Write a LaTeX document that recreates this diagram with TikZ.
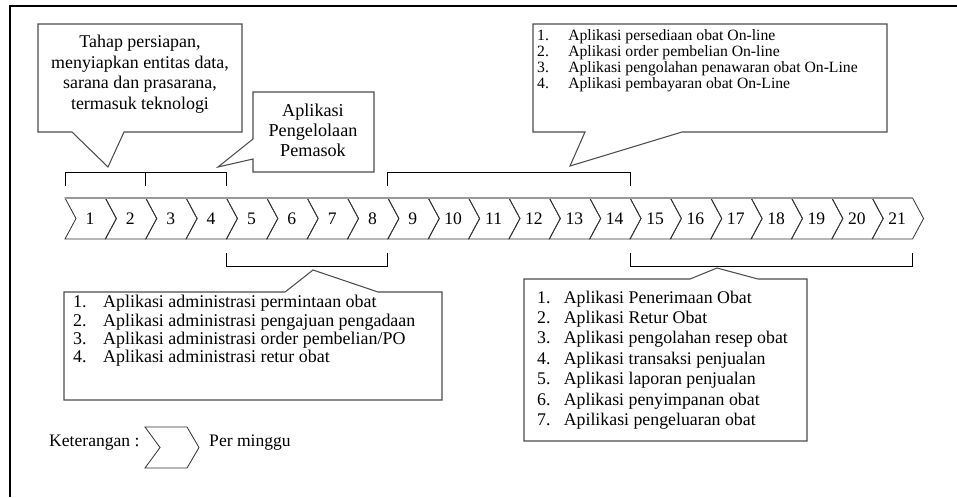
\documentclass[tikz,border=0pt]{standalone}
\usepackage{fontspec}
\setmainfont{Liberation Serif}
\begin{document}
\begin{tikzpicture}[x=0.03cm,y=-0.03cm,
		balon/.style={draw=black!70,line width=0.9pt},
		kurung/.style={line width=0.8pt},
		minggu/.style={draw=black!80,line width=0.7pt},
		daftar/.style={anchor=west,inner sep=0pt,align=left}]
		\useasboundingbox (0,0) rectangle (957,497);
		\draw[line width=1.8pt] (10,497) -- (10,6) -- (957,6);
		
		% minggu ke-1 s/d 21
		\foreach \i in {1,...,21}{
			\pgfmathsetmacro{\xa}{65+(\i-1)*40.36}
			\draw[minggu] (\xa,198) -- ++(40.36,0) -- ++(11,20.5) -- ++(-11,20.5) -- ++(-40.36,0) -- ++(11,-20.5) -- cycle;
			\node[font=\fontsize{15}{15}\selectfont] (w\i) at (\xa+25,219) {\i};
		}
		\draw[black!40,line width=1.5pt] (65,198) -- (912,198);
		
		\draw[kurung] (65,186) -- (65,172) -- (226,172) -- (226,186);
		\draw[kurung] (145,172) -- (145,186);
		\draw[kurung] (387,186) -- (387,172) -- (630,172) -- (630,186);
		\draw[kurung] (226,253) -- (226,266) -- (387,266) -- (387,253);
		\draw[kurung] (630,253) -- (630,266) -- (912,266) -- (912,253);
		
		\draw[balon] (38,24) -- (242,24) -- (242,132) -- (124,132) -- (108,167) -- (72,132) -- (38,132) -- cycle;
		\draw[balon] (253,92) -- (374,92) -- (374,172) -- (253,172) -- (253,159) -- (218,167) -- (253,139) -- cycle;
		\draw[balon] (533,24) -- (887,24) -- (887,132) -- (682,132) -- (570,166) -- (585,132) -- (533,132) -- cycle;
		\draw[balon] (64,292) -- (285,292) -- (313,270) -- (378,292) -- (442,292) -- (442,400) -- (64,400) -- cycle;
		\draw[balon] (524,279) -- (690,279) -- (717,268) -- (758,279) -- (807,279) -- (807,441) -- (524,441) -- cycle;
		
		\node[align=center,inner sep=0pt,font=\fontsize{15.3}{17.5}\selectfont] (tahap) at (140,74) {Tahap persiapan,\\menyiapkan entitas data,\\sarana dan prasarana,\\termasuk teknologi};
		\node[align=center,inner sep=0pt,font=\fontsize{15.5}{17.1}\selectfont] (pemasok) at (313,130) {Aplikasi\\Pengelolaan\\Pemasok};
		\node[daftar,font=\fontsize{13.4}{13.7}\selectfont] (online) at (537,60.5) {\makebox[26.5pt][l]{1.}Aplikasi persediaan obat On-line\\\makebox[26.5pt][l]{2.}Aplikasi order pembelian On-line\\\makebox[26.5pt][l]{3.}Aplikasi pengolahan penawaran obat On-Line\\\makebox[26.5pt][l]{4.}Aplikasi pembayaran obat On-Line};
		\node[daftar,font=\fontsize{15.3}{15.6}\selectfont] (admin) at (73,331) {\makebox[25.6pt][l]{1.}Aplikasi administrasi permintaan obat\\\makebox[25.6pt][l]{2.}Aplikasi administrasi pengajuan pengadaan\\\makebox[25.6pt][l]{3.}Aplikasi administrasi order pembelian/PO\\\makebox[25.6pt][l]{4.}Aplikasi administrasi retur obat};
		\node[daftar,font=\fontsize{15.2}{17.4}\selectfont] (layanan) at (537,360) {\makebox[22.7pt][l]{1.}Aplikasi Penerimaan Obat\\\makebox[22.7pt][l]{2.}Aplikasi Retur Obat\\\makebox[22.7pt][l]{3.}Aplikasi pengolahan resep obat\\\makebox[22.7pt][l]{4.}Aplikasi transaksi penjualan\\\makebox[22.7pt][l]{5.}Aplikasi laporan penjualan\\\makebox[22.7pt][l]{6.}Aplikasi penyimpanan obat\\\makebox[22.7pt][l]{7.}Apilikasi pengeluaran obat};
		
		% keterangan
		\node[anchor=west,inner sep=0pt,font=\fontsize{15}{15}\selectfont] (ket) at (49,443) {Keterangan :};
		\draw[minggu] (145,427) -- (187,427) -- (199,447.5) -- (187,468) -- (145,468) -- (160,447.5) -- cycle;
		\node[anchor=west,inner sep=0pt,font=\fontsize{15}{15}\selectfont] (perminggu) at (209,443) {Per minggu};
	\end{tikzpicture}
\end{document}
